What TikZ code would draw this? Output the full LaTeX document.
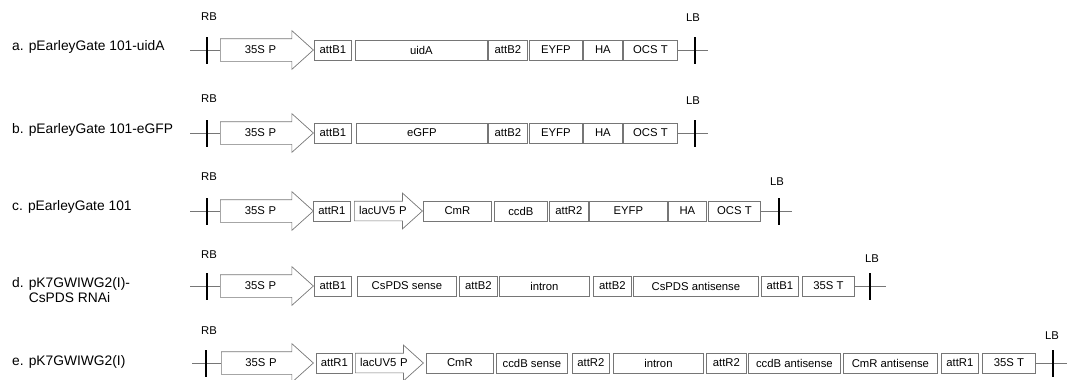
\documentclass[tikz,border=0pt]{standalone}
\usepackage{fontspec}
\setmainfont{Liberation Sans}
\usetikzlibrary{shapes.arrows,positioning}
\definecolor{boxgray}{RGB}{118,118,118}

\begin{document}
\begin{tikzpicture}[x=1pt,y=-1pt]
\tikzstyle{part}=[draw=boxgray,line width=0.8pt,minimum height=20pt,inner sep=0pt,anchor=west,font=\fontsize{11.3}{13}\selectfont]
\tikzstyle{promoter}=[single arrow,draw=boxgray,line width=0.7pt,anchor=west,inner xsep=0pt,inner ysep=5.5pt,text height=9pt,text depth=2pt,single arrow head extend=8pt,single arrow tip angle=84,font=\fontsize{11.3}{13}\selectfont]
\tikzstyle{backbone}=[draw=boxgray,line width=0.8pt]
\tikzstyle{border}=[draw=black,line width=1.6pt]
\tikzstyle{tag}=[inner sep=0pt,font=\fontsize{11.3}{13}\selectfont]
\tikzstyle{vecname}=[inner sep=0pt,anchor=west,align=left,font=\fontsize{13.8}{15}\selectfont]
\useasboundingbox (0,0) rectangle (1072,380);

% a. pEarleyGate 101-uidA
\node[vecname] (aname) at (12,47) {a. pEarleyGate 101-uidA};
\coordinate (astart) at (190,50);
\coordinate (arb) at (207,50);
\node[promoter,minimum height=93pt,text width=72pt,align=center] (apro) at (220,50) {35S P};
\foreach \x/\w/\t [count=\i] in {314/37/attB1,355/132/uidA,488/39/attB2,529/53/EYFP,583/39/HA,623/54/OCS T}
  \node[part,minimum width=\w] (a\i) at (\x,50) {\t};
\coordinate (aend) at (708,50);
\coordinate (alb) at (695,50);
\draw[backbone] (astart) -- (apro.west);
\draw[backbone] (a6.east) -- (aend);
\draw[border] (arb) +(0,-13) -- +(0,14);
\draw[border] (alb) +(0,-13) -- +(0,14);
\node[tag] at (209,17) {RB};
\node[tag] at (693,18) {LB};

% b. pEarleyGate 101-eGFP
\node[vecname] (bname) at (12,130) {b. pEarleyGate 101-eGFP};
\coordinate (bstart) at (190,133);
\coordinate (brb) at (207,133);
\node[promoter,minimum height=93pt,text width=72pt,align=center] (bpro) at (220,133) {35S P};
\foreach \x/\w/\t [count=\i] in {314/37/attB1,356/131/eGFP,488/39/attB2,529/53/EYFP,583/39/HA,623/54/OCS T}
  \node[part,minimum width=\w] (b\i) at (\x,133) {\t};
\coordinate (bend) at (708,133);
\coordinate (blb) at (695,133);
\draw[backbone] (bstart) -- (bpro.west);
\draw[backbone] (b6.east) -- (bend);
\draw[border] (brb) +(0,-13) -- +(0,14);
\draw[border] (blb) +(0,-13) -- +(0,14);
\node[tag] at (209,99) {RB};
\node[tag] at (693,101) {LB};

% c. pEarleyGate 101
\node[vecname] (cname) at (12,207) {c. pEarleyGate 101};
\coordinate (cstart) at (190,211);
\coordinate (crb) at (207,211);
\node[promoter,minimum height=93pt,text width=72pt,align=center] (cpro) at (220,211) {35S P};
\node[part,minimum width=37pt] (c1) at (313,211) {attR1};
\node[promoter,minimum height=68pt,text width=49pt,align=center,inner ysep=4.5pt,text height=8pt,text depth=2pt] (clac) at (354,211) {lacUV5 P};
\foreach \x/\w/\t [count=\i from 2] in {423/68/CmR,494/53/ccdB,549/39/attR2,589/78/EYFP,668/38/HA,708/52/OCS T}
  \node[part,minimum width=\w] (c\i) at (\x,211) {\t};
\coordinate (cend) at (792,211);
\coordinate (clb) at (779,211);
\draw[backbone] (cstart) -- (cpro.west);
\draw[backbone] (c7.east) -- (cend);
\draw[border] (crb) +(0,-13) -- +(0,14);
\draw[border] (clb) +(0,-13) -- +(0,14);
\node[tag] at (209,177) {RB};
\node[tag] at (777,182) {LB};

% d. pK7GWIWG2(I)-CsPDS RNAi
\node[vecname] (dname) at (12,290) {d. pK7GWIWG2(I)-\\\phantom{d. }CsPDS RNAi};
\coordinate (dstart) at (190,286);
\coordinate (drb) at (207,286);
\node[promoter,minimum height=93pt,text width=72pt,align=center] (dpro) at (220,286) {35S P};
\foreach \x/\w/\t [count=\i] in {314/37/attB1,357/99/CsPDS sense,459/38/attB2,499/90/intron,593/38/attB2,633/125/CsPDS antisense,761/37/attB1,802/52/35S T}
  \node[part,minimum width=\w] (d\i) at (\x,286) {\t};
\coordinate (dend) at (886,286);
\coordinate (dlb) at (870,286);
\draw[backbone] (dstart) -- (dpro.west);
\draw[backbone] (d8.east) -- (dend);
\draw[border] (drb) +(0,-13) -- +(0,14);
\draw[border] (dlb) +(0,-13) -- +(0,14);
\node[tag] at (209,255) {RB};
\node[tag] at (872,259) {LB};

% e. pK7GWIWG2(I)
\node[vecname] (ename) at (12,362) {e. pK7GWIWG2(I)};
\coordinate (estart) at (192,363);
\coordinate (erb) at (206,363);
\node[promoter,minimum height=92pt,text width=71pt,align=center] (epro) at (221,363) {35S P};
\node[part,minimum width=36pt] (e1) at (316,363) {attR1};
\node[promoter,minimum height=68pt,text width=49pt,align=center,inner ysep=4.5pt,text height=8pt,text depth=2pt] (elac) at (355,363) {lacUV5 P};
\foreach \x/\w/\t [count=\i from 2] in {426/67/CmR,496/71/ccdB sense,572/37/attR2,613/90/intron,706/40/attR2,748/92/ccdB antisense,843/94/CmR antisense,941/37/attR1,982/53/35S T}
  \node[part,minimum width=\w] (e\i) at (\x,363) {\t};
\coordinate (eend) at (1067,363);
\coordinate (elb) at (1053,363);
\draw[backbone] (estart) -- (epro.west);
\draw[backbone] (e10.east) -- (eend);
\draw[border] (erb) +(0,-13) -- +(0,14);
\draw[border] (elb) +(0,-13) -- +(0,14);
\node[tag] at (209,331) {RB};
\node[tag] at (1052,336) {LB};
\end{tikzpicture}
\end{document}
